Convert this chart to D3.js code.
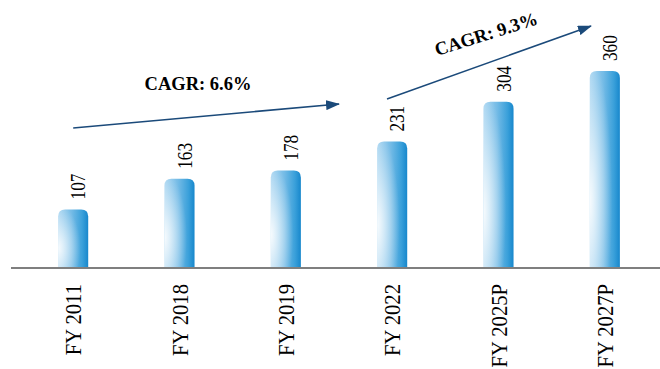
<!DOCTYPE html>
<html>
<head>
<meta charset="utf-8">
<script src="https://cdn.jsdelivr.net/npm/d3@7/dist/d3.min.js"></script>
<style>
  html, body { margin: 0; padding: 0; background: #ffffff; }
  svg { display: block; }
</style>
</head>
<body>
<svg id="chart" width="660" height="369"></svg>
<script>
// Market size by fiscal year
const categories = ["FY 2011", "FY 2018", "FY 2019", "FY 2022", "FY 2025P", "FY 2027P"];
const values = [107, 163, 178, 231, 304, 360];

// Growth annotations: from / to category and rate text
const cagrFrom = ["FY 2011", "FY 2022"];
const cagrTo = ["FY 2019", "FY 2027P"];
const cagrText = ["CAGR: 6.6%", "CAGR: 9.3%"];

const W = 660, H = 369;
const baseY = 268;
const svg = d3.select("#chart");

const x = d3.scaleBand()
  .domain(categories)
  .range([20, 658])
  .paddingInner(0.717)
  .paddingOuter(0.3585);

const y = d3.scaleLinear()
  .domain([0, 360])
  .range([baseY, 71]);

const defs = svg.append("defs");

// Horizontal shading: light on the left, saturated blue on the right
const lin = defs.append("linearGradient")
  .attr("id", "barBase")
  .attr("x1", 0).attr("y1", 0).attr("x2", 1).attr("y2", 0);
lin.append("stop").attr("offset", 0).attr("stop-color", "#a8d5f1");
lin.append("stop").attr("offset", 0.45).attr("stop-color", "#74bbe6");
lin.append("stop").attr("offset", 0.8).attr("stop-color", "#3aa0da");
lin.append("stop").attr("offset", 1).attr("stop-color", "#1787cc");

// Soft highlight on the left side, lower half
const hi = defs.append("radialGradient")
  .attr("id", "barGlow")
  .attr("cx", 0.0).attr("cy", 0.66)
  .attr("fx", 0.0).attr("fy", 0.66)
  .attr("r", 0.75);
hi.append("stop").attr("offset", 0).attr("stop-color", "#ffffff").attr("stop-opacity", 0.9);
hi.append("stop").attr("offset", 0.5).attr("stop-color", "#ffffff").attr("stop-opacity", 0.45);
hi.append("stop").attr("offset", 1).attr("stop-color", "#ffffff").attr("stop-opacity", 0);

const marker = defs.append("marker")
  .attr("id", "arrowHead")
  .attr("viewBox", "0 0 14 10")
  .attr("refX", 13).attr("refY", 5)
  .attr("markerWidth", 14).attr("markerHeight", 10)
  .attr("markerUnits", "userSpaceOnUse")
  .attr("orient", "auto");
marker.append("path").attr("d", "M0,0 L14,5 L0,10 Z").attr("fill", "#1b4a7a");

// Bars with rounded tops
function barPath(x0, w, top, bottom, r) {
  const rr = Math.min(r, (bottom - top), w / 2);
  return `M${x0},${bottom} L${x0},${top + rr} Q${x0},${top} ${x0 + rr},${top} ` +
         `L${x0 + w - rr},${top} Q${x0 + w},${top} ${x0 + w},${top + rr} L${x0 + w},${bottom} Z`;
}

const bars = svg.append("g").selectAll("g")
  .data(values)
  .join("g");
bars.append("path")
  .attr("d", (d, i) => barPath(x(categories[i]), x.bandwidth(), y(d), baseY, 7))
  .attr("fill", "url(#barBase)");
bars.append("path")
  .attr("d", (d, i) => barPath(x(categories[i]), x.bandwidth(), y(d), baseY, 7))
  .attr("fill", "url(#barGlow)");

// Baseline
svg.append("line")
  .attr("x1", 11).attr("x2", W)
  .attr("y1", baseY).attr("y2", baseY)
  .attr("stroke", "#7f7f7f").attr("stroke-width", 2);

// Value labels, rotated
svg.append("g").selectAll("text")
  .data(values)
  .join("text")
  .attr("transform", (d, i) =>
    `translate(${x(categories[i]) + x.bandwidth() / 2 + 12},${y(d) - 10}) rotate(-90) scale(0.8,1)`)
  .attr("text-anchor", "start")
  .attr("font-family", "'Liberation Serif', 'Times New Roman', serif")
  .attr("font-size", 21.5)
  .attr("fill", "#000")
  .text(d => d);

// Category labels, rotated below the axis
svg.append("g").selectAll("text")
  .data(categories)
  .join("text")
  .attr("transform", d =>
    `translate(${x(d) + x.bandwidth() / 2 + 8},${baseY + 16}) rotate(-90) scale(0.86,1)`)
  .attr("text-anchor", "end")
  .attr("font-family", "'Liberation Serif', 'Times New Roman', serif")
  .attr("font-size", 24)
  .attr("fill", "#000")
  .text(d => d);

// CAGR arrows
const arrowPts = [
  { x1: x(cagrFrom[0]) + x.bandwidth() / 2, y1: 128, x2: 339, y2: 104 },
  { x1: 387, y1: 99, x2: 591, y2: 26 }
];
svg.append("g").selectAll("line")
  .data(arrowPts)
  .join("line")
  .attr("x1", d => d.x1).attr("y1", d => d.y1)
  .attr("x2", d => d.x2).attr("y2", d => d.y2)
  .attr("stroke", "#1b4a7a").attr("stroke-width", 1.6)
  .attr("marker-end", "url(#arrowHead)");

const labelPos = [
  { x: 198, y: 90, a: 0 },
  { x: 488, y: 40, a: -17.5 }
];
svg.append("g").selectAll("text")
  .data(cagrText)
  .join("text")
  .attr("transform", (d, i) => `translate(${labelPos[i].x},${labelPos[i].y}) rotate(${labelPos[i].a})`)
  .attr("text-anchor", "middle")
  .attr("font-family", "'Liberation Serif', 'Times New Roman', serif")
  .attr("font-weight", "bold")
  .attr("font-size", 18.5)
  .attr("fill", "#000")
  .text(d => d);
</script>
</body>
</html>
